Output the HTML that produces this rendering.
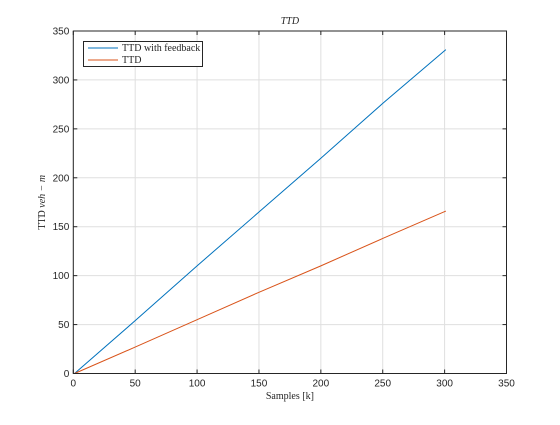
<!DOCTYPE html>
<html><head><meta charset="utf-8"><style>
body{margin:0;background:#fff;}
svg text{font-family:"Liberation Sans",sans-serif;font-size:10px;fill:#262626;}
.serif{font-family:"Liberation Serif",serif !important;}
</style></head><body>
<svg id="chart" width="560" height="420" xmlns="http://www.w3.org/2000/svg">
<rect width="560" height="420" fill="#fff"/>
<g id="grid"></g><g id="series"></g><g id="axes"></g>
</svg>
<script>
const xTicks=[0,50,100,150,200,250,300,350];
const yTicks=[0,50,100,150,200,250,300,350];
const fbX=[1,50,100,150,200,250,301];
const fbY=[0,54,110,165,220,276,331];
const ttdX=[1,50,100,150,200,250,301];
const ttdY=[0,27,55,83,110,138,166];
const L=73.3,R=506.5,T=31,B=373.5;
const sx=v=>L+(v-0)/(350)*(R-L), sy=v=>B-(v-0)/350*(B-T);
const ns='http://www.w3.org/2000/svg';
function mk(tag,attrs,parent){const e=document.createElementNS(ns,tag);for(const k in attrs)e.setAttribute(k,attrs[k]);parent.appendChild(e);return e;}
const grid=document.getElementById('grid'),ser=document.getElementById('series'),ax=document.getElementById('axes');
xTicks.forEach(t=>{const g=mk('line',{x1:sx(t),x2:sx(t),y1:T,y2:B,stroke:'#dfdfdf','stroke-width':1},grid);

const tk=mk('line',{x1:sx(t),x2:sx(t),y1:B,y2:B-4,stroke:'#262626'},ax);
const tt=mk('text',{x:sx(t),y:B+13,'text-anchor':'middle'},ax);tt.textContent=t;

const tk2=mk('line',{x1:sx(t),x2:sx(t),y1:T,y2:T+4,stroke:'#262626'},ax);});
yTicks.forEach(t=>{const g=mk('line',{x1:L,x2:R,y1:sy(t),y2:sy(t),stroke:'#dfdfdf','stroke-width':1},grid);

const tk=mk('line',{x1:L,x2:L+4,y1:sy(t),y2:sy(t),stroke:'#262626'},ax);
const tk2=mk('line',{x1:R,x2:R-4,y1:sy(t),y2:sy(t),stroke:'#262626'},ax);
const tt=mk('text',{x:L-4,y:sy(t)+3.5,'text-anchor':'end'},ax);tt.textContent=t;
});
const p1=mk('polyline',{points:fbX.map((x,i)=>sx(x)+','+sy(fbY[i])).join(' '),fill:'none',stroke:'#0072bd','stroke-width':1},ser);

const p2=mk('polyline',{points:ttdX.map((x,i)=>sx(x)+','+sy(ttdY[i])).join(' '),fill:'none',stroke:'#d95319','stroke-width':1},ser);

const box=mk('rect',{x:L,y:T,width:R-L,height:B-T,fill:'none',stroke:'#262626','stroke-width':1},ax);

const title=mk('text',{x:(L+R)/2,y:24,'text-anchor':'middle','font-style':'italic',class:'serif','font-size':'11'},ax);title.textContent='TTD';

const xl=mk('text',{x:(L+R)/2,y:399,'text-anchor':'middle',class:'serif'},ax);xl.textContent='Samples [k]';

const yl=mk('text',{x:0,y:0,'text-anchor':'middle',class:'serif',transform:'translate(45,'+((T+B)/2)+') rotate(-90)'},ax);yl.innerHTML='TTD <tspan font-style="italic">veh − m</tspan>';

const lg=mk('g',{},ax);
mk('rect',{x:83.5,y:41.5,width:119,height:25,fill:'#fff',stroke:'#262626','stroke-width':1},lg);
mk('line',{x1:88,x2:118,y1:48,y2:48,stroke:'#0072bd'},lg);
mk('line',{x1:88,x2:118,y1:60,y2:60,stroke:'#d95319'},lg);
const l1=mk('text',{x:122,y:51,class:'serif','font-size':'9'},lg);l1.textContent='TTD with feedback';

const l2=mk('text',{x:122,y:63,class:'serif','font-size':'9'},lg);l2.textContent='TTD';

</script>
</body></html>
